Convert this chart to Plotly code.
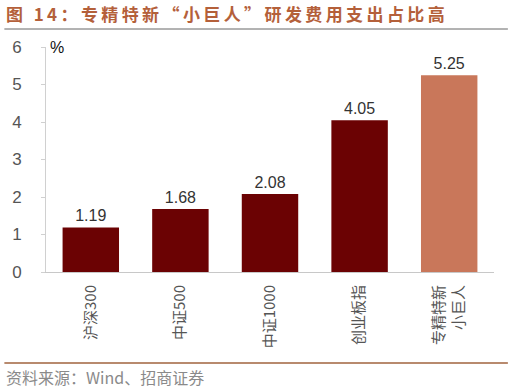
import plotly.graph_objects as go

categories = ["沪深300", "中证500", "中证1000", "创业板指", "专精特新<br>小巨人"]
values = [1.19, 1.68, 2.08, 4.05, 5.25]
value_labels = ["1.19", "1.68", "2.08", "4.05", "5.25"]
bar_colors = ["#6b0203", "#6b0203", "#6b0203", "#6b0203", "#c9775a"]
y_ticks = [0, 1, 2, 3, 4, 5, 6]
title_text = "图 14：专精特新“小巨人”研发费用支出占比高"
source_text = "资料来源：Wind、招商证券"

W, H = 508, 389
ml, mr, mt, mb = 42, 14, 47, 117
pw, ph = W - ml - mr, H - mt - mb

def px_x(x):
    return (x - ml) / pw

def px_y(y):
    return (H - mb - y) / ph

def spaced(s):
    return "\u2009".join(s)

fig = go.Figure(go.Bar(
    x=categories, y=values, marker_color=bar_colors, marker_line_width=0,
    width=0.63, text=value_labels, textposition="outside", cliponaxis=False,
    textfont=dict(family="Liberation Sans, Arial", size=16, color="#333333"),
))

fig.update_layout(
    width=W, height=H, margin=dict(l=ml, r=mr, t=mt, b=mb),
    paper_bgcolor="white", plot_bgcolor="white", showlegend=False,
    xaxis=dict(tickangle=-90, showline=True, linecolor="#c8c8c8", linewidth=1,
               ticks="", showgrid=False, range=[-0.5, 4.5], ticklabelstandoff=6,
               tickfont=dict(family="Noto Sans CJK SC", size=15, color="#555555")),
    yaxis=dict(range=[0, 6], tickvals=y_ticks, showline=True, linecolor="#d0d0d0",
               linewidth=1, ticks="outside", ticklen=4, tickcolor="#d0d0d0",
               showgrid=False, zeroline=False, ticklabelstandoff=16,
               tickfont=dict(family="Liberation Sans, Arial", size=17, color="#555555")),
)

fig.add_annotation(text="<b>" + spaced(title_text) + "</b>",
                   xref="paper", yref="paper", x=px_x(0), y=px_y(14),
                   xanchor="left", yanchor="middle", showarrow=False,
                   font=dict(family="Noto Sans CJK SC", size=17, color="#b4603a"))
fig.add_annotation(text="%", xref="paper", yref="paper", x=px_x(44), y=px_y(47),
                   xanchor="left", yanchor="middle", showarrow=False,
                   font=dict(family="Liberation Sans, Arial", size=16, color="#111111"))
fig.add_annotation(text=source_text, xref="paper", yref="paper",
                   x=px_x(0), y=px_y(377), xanchor="left", yanchor="middle",
                   showarrow=False,
                   font=dict(family="Noto Sans CJK SC", size=16, color="#8a8a8a"))

fig.add_shape(type="line", xref="paper", yref="paper", x0=px_x(0), x1=px_x(W),
              y0=px_y(29), y1=px_y(29), line=dict(color="#666666", width=1))
fig.add_shape(type="line", xref="paper", yref="paper", x0=px_x(0), x1=px_x(W),
              y0=px_y(363), y1=px_y(363), line=dict(color="#b88a6e", width=2))

fig.write_html("out.html", config={"displayModeBar": False},
               post_script="document.body.style.margin='0px';")
